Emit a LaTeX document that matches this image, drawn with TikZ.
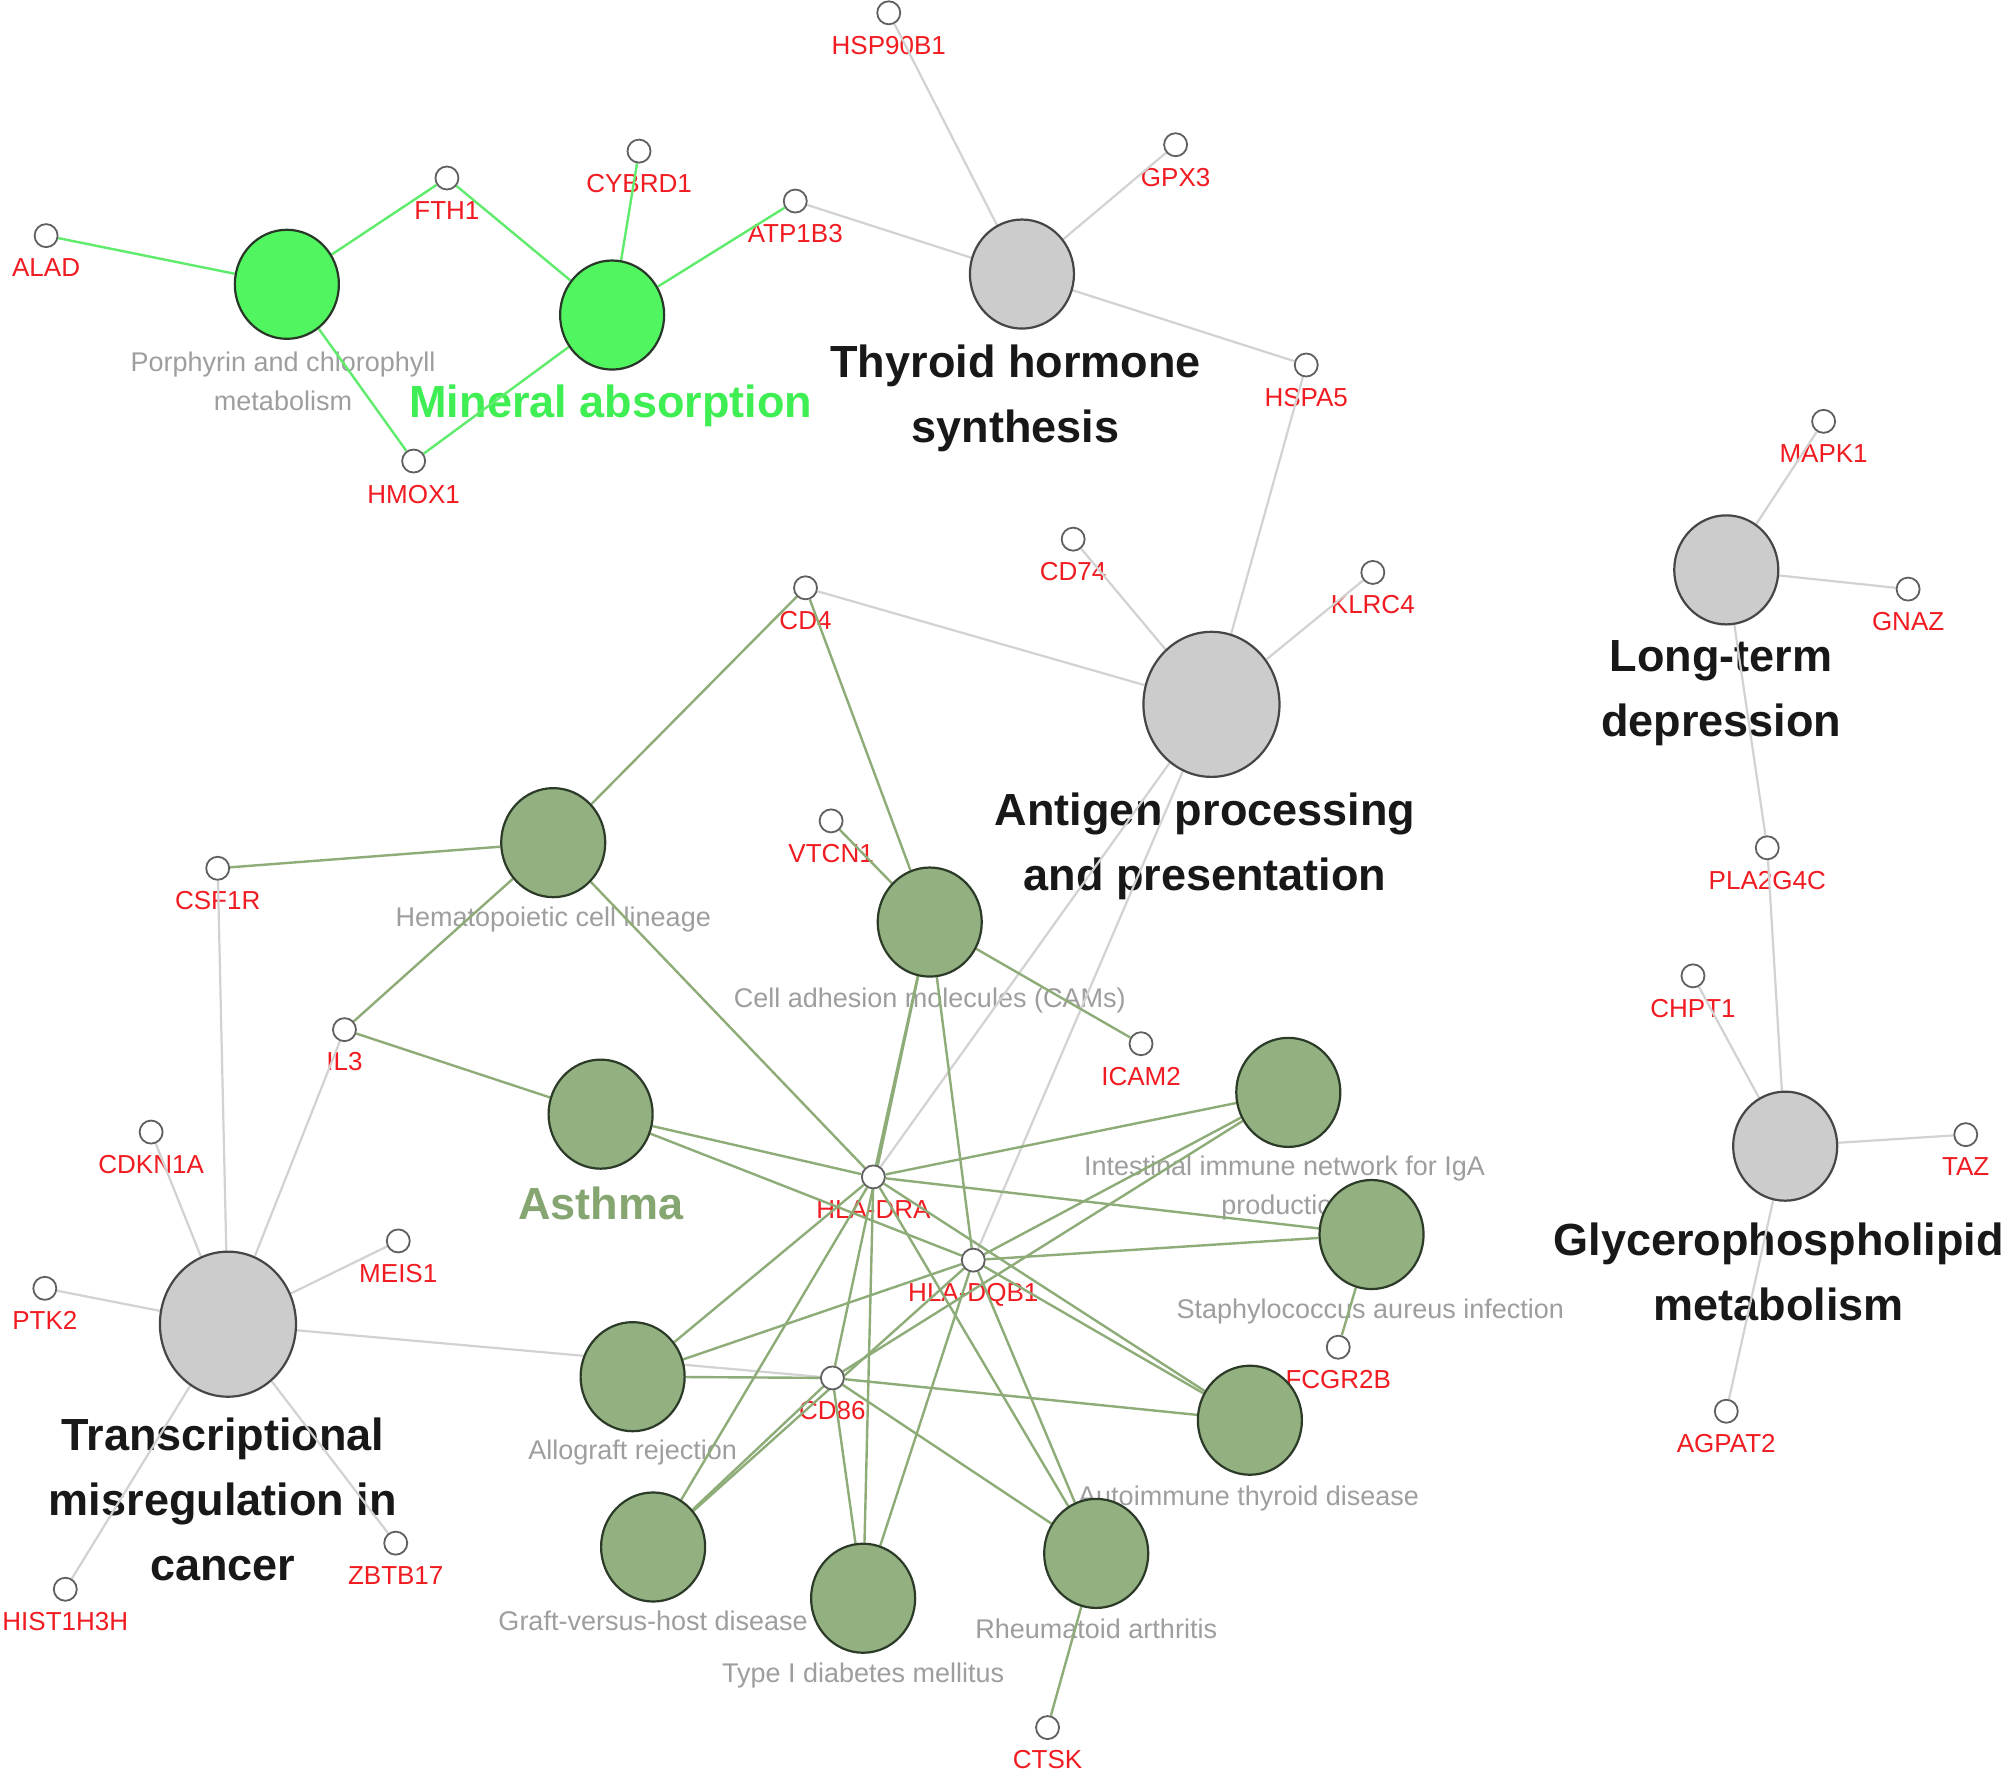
\documentclass[tikz,border=0pt]{standalone}
\usepackage{fontspec}
\setmainfont{Liberation Sans}
\usetikzlibrary{shapes.geometric}

\definecolor{minfill}{RGB}{80,245,95}
\definecolor{minedge}{RGB}{95,236,108}
\definecolor{mintext}{RGB}{62,238,82}
\definecolor{asthfill}{RGB}{147,176,128}
\definecolor{asthedge}{RGB}{142,172,120}
\definecolor{asthtext}{RGB}{133,166,112}
\definecolor{greyfill}{RGB}{204,204,204}
\definecolor{greyedge}{RGB}{210,210,210}
\definecolor{genered}{RGB}{240,28,34}
\definecolor{lightlab}{RGB}{158,158,158}
\definecolor{darklab}{RGB}{24,24,24}

\pgfdeclarelayer{labels}
\pgfdeclarelayer{edges}
\pgfsetlayers{labels,edges,main}

\tikzset{
  gene/.style={circle, draw={rgb,255:red,96;green,96;blue,96}, fill=white, line width=0.9pt, minimum size=11.5pt, inner sep=0pt},
  term/.style={ellipse, line width=1.1pt, minimum width=52pt, minimum height=54.5pt, inner sep=0pt},
  bigterm/.style={minimum width=68pt, minimum height=72.5pt},
  mineterm/.style={term, fill=minfill, draw={rgb,255:red,40;green,55;blue,40}},
  asthterm/.style={term, fill=asthfill, draw={rgb,255:red,44;green,58;blue,40}},
  greyterm/.style={term, fill=greyfill, draw={rgb,255:red,70;green,70;blue,70}},
  glab/.style={font=\fontsize{13}{15}\selectfont, text=genered, inner sep=0pt, text height=9.3pt, text depth=0pt},
  tlab/.style={font=\fontsize{13.5}{19.5}\selectfont, text=lightlab, inner sep=0pt, text height=9.7pt, text depth=0pt},
  tlabs/.style={font=\fontsize{13.5}{19.5}\selectfont, text=lightlab, inner sep=0pt, align=center},
  blab/.style={font=\bfseries\fontsize{22.5}{32.6}\selectfont, text=darklab, inner sep=0pt, align=center},
  mine/.style={draw=minedge, line width=1.2pt},
  asth/.style={draw=asthedge, line width=1.2pt},
  grey/.style={draw=greyedge, line width=1.1pt}
}

\begin{document}
\begin{tikzpicture}[x=0.64pt,y=0.64pt,yscale=-1,xscale=1]
\useasboundingbox (0,0) rectangle (1568,1390);

% Term nodes
\node [mineterm] (porph) at (224,222) {};
\node [mineterm] (mineral) at (478,246) {};
\node [greyterm] (thyroid) at (798,214) {};
\node [greyterm,bigterm] (antigen) at (946,550) {};
\node [greyterm] (ltd) at (1348,445) {};
\node [greyterm] (glycero) at (1394,895) {};
\node [greyterm,bigterm] (transcr) at (178,1034) {};
\node [asthterm] (hemato) at (432,658) {};
\node [asthterm] (cams) at (726,720) {};
\node [asthterm] (asthma) at (469,870) {};
\node [asthterm] (intest) at (1006,853) {};
\node [asthterm] (staph) at (1071,964) {};
\node [asthterm] (allo) at (494,1075) {};
\node [asthterm] (autoimm) at (976,1109) {};
\node [asthterm] (gvhd) at (510,1208) {};
\node [asthterm] (tidm) at (674,1248) {};
\node [asthterm] (ra) at (856,1213) {};

% Gene nodes
\node [gene] (hsp90b1) at (694,10) {};
\node [gene] (gpx3) at (918,113) {};
\node [gene] (alad) at (36,184) {};
\node [gene] (fth1) at (349,139) {};
\node [gene] (cybrd1) at (499,118) {};
\node [gene] (atp1b3) at (621,157) {};
\node [gene] (hspa5) at (1020,285) {};
\node [gene] (hmox1) at (323,360) {};
\node [gene] (mapk1) at (1424,329) {};
\node [gene] (gnaz) at (1490,460) {};
\node [gene] (cd74) at (838,421) {};
\node [gene] (klrc4) at (1072,447) {};
\node [gene] (cd4) at (629,459) {};
\node [gene] (vtcn1) at (649,641) {};
\node [gene] (csf1r) at (170,678) {};
\node [gene] (pla2g4c) at (1380,662) {};
\node [gene] (chpt1) at (1322,762) {};
\node [gene] (il3) at (269,804) {};
\node [gene] (icam2) at (891,815) {};
\node [gene] (cdkn1a) at (118,884) {};
\node [gene] (taz) at (1535,886) {};
\node [gene] (hladra) at (682,919) {};
\node [gene] (meis1) at (311,969) {};
\node [gene] (hladqb1) at (760,984) {};
\node [gene] (ptk2) at (35,1006) {};
\node [gene] (fcgr2b) at (1045,1052) {};
\node [gene] (cd86) at (650,1076) {};
\node [gene] (agpat2) at (1348,1102) {};
\node [gene] (zbtb17) at (309,1205) {};
\node [gene] (hist1h3h) at (51,1241) {};
\node [gene] (ctsk) at (818,1349) {};

\begin{pgfonlayer}{edges}
% Mineral absorption group
\draw [mine] (alad) -- (porph);
\draw [mine] (porph) -- (fth1);
\draw [mine] (porph) -- (hmox1);
\draw [mine] (fth1) -- (mineral);
\draw [mine] (cybrd1) -- (mineral);
\draw [mine] (atp1b3) -- (mineral);
\draw [mine] (hmox1) -- (mineral);
% grey groups
\draw [grey] (atp1b3) -- (thyroid);
\draw [grey] (hsp90b1) -- (thyroid);
\draw [grey] (gpx3) -- (thyroid);
\draw [grey] (thyroid) -- (hspa5);
\draw [grey] (hspa5) -- (antigen);
\draw [grey] (cd74) -- (antigen);
\draw [grey] (klrc4) -- (antigen);
\draw [grey] (cd4) -- (antigen);
\draw [grey] (antigen) -- (hladra);
\draw [grey] (antigen) -- (hladqb1);
\draw [grey] (mapk1) -- (ltd);
\draw [grey] (gnaz) -- (ltd);
\draw [grey] (ltd) -- (pla2g4c);
\draw [grey] (pla2g4c) -- (glycero);
\draw [grey] (chpt1) -- (glycero);
\draw [grey] (taz) -- (glycero);
\draw [grey] (glycero) -- (agpat2);
\foreach \g in {csf1r,cdkn1a,il3,meis1,ptk2,zbtb17,hist1h3h,cd86}
  \draw [grey] (transcr) -- (\g);
% Asthma group
\foreach \g in {cd4,csf1r,il3,hladra}
  \draw [asth] (hemato) -- (\g);
\foreach \g in {cd4,vtcn1,icam2,hladra,hladqb1,cd86}
  \draw [asth] (cams) -- (\g);
\foreach \g in {il3,hladra,hladqb1}
  \draw [asth] (asthma) -- (\g);
\foreach \t in {intest,allo,autoimm,gvhd,tidm,ra}
  \foreach \g in {hladra,hladqb1,cd86}
    \draw [asth] (\t) -- (\g);
\foreach \g in {hladra,hladqb1,fcgr2b}
  \draw [asth] (staph) -- (\g);
\draw [asth] (ra) -- (ctsk);
\end{pgfonlayer}

\begin{pgfonlayer}{labels}
\fill [white] (0,0) rectangle (1568,1390);
% Text Node: genes
\node [glab] (l-hsp90b1) at (694,35) {HSP90B1};
\node [glab] (l-gpx3) at (918,138) {GPX3};
\node [glab] (l-alad) at (36,209) {ALAD};
\node [glab] (l-fth1) at (349,164) {FTH1};
\node [glab] (l-cybrd1) at (499,143) {CYBRD1};
\node [glab] (l-atp1b3) at (621,182) {ATP1B3};
\node [glab] (l-hspa5) at (1020,310) {HSPA5};
\node [glab] (l-hmox1) at (323,386) {HMOX1};
\node [glab] (l-mapk1) at (1424,354) {MAPK1};
\node [glab] (l-gnaz) at (1490,485) {GNAZ};
\node [glab] (l-cd74) at (838,446) {CD74};
\node [glab] (l-klrc4) at (1072,472) {KLRC4};
\node [glab] (l-cd4) at (629,484) {CD4};
\node [glab] (l-vtcn1) at (649,666) {VTCN1};
\node [glab] (l-csf1r) at (170,703) {CSF1R};
\node [glab] (l-pla2g4c) at (1380,687) {PLA2G4C};
\node [glab] (l-chpt1) at (1322,787) {CHPT1};
\node [glab] (l-il3) at (269,829) {IL3};
\node [glab] (l-icam2) at (891,840) {ICAM2};
\node [glab] (l-cdkn1a) at (118,909) {CDKN1A};
\node [glab] (l-taz) at (1535,911) {TAZ};
\node [glab] (l-hladra) at (682,944) {HLA-DRA};
\node [glab] (l-meis1) at (311,994) {MEIS1};
\node [glab] (l-hladqb1) at (760,1009) {HLA-DQB1};
\node [glab] (l-ptk2) at (35,1031) {PTK2};
\node [glab] (l-fcgr2b) at (1045,1077) {FCGR2B};
\node [glab] (l-cd86) at (650,1101) {CD86};
\node [glab] (l-agpat2) at (1348,1127) {AGPAT2};
\node [glab] (l-zbtb17) at (309,1230) {ZBTB17};
\node [glab] (l-hist1h3h) at (51,1266) {HIST1H3H};
\node [glab] (l-ctsk) at (818,1374) {CTSK};
% Text Node: terms
\node [tlabs] (l-porph) at (221,298) {Porphyrin and chlorophyll\\metabolism};
\node [tlab] (l-hemato) at (432,716) {Hematopoietic cell lineage};
\node [tlab] (l-cams) at (726,779) {Cell adhesion molecules (CAMs)};
\node [tlabs] (l-intest) at (1003,928) {Intestinal immune network for IgA\\production};
\node [tlab] (l-staph) at (1070,1022) {Staphylococcus aureus infection};
\node [tlab] (l-allo) at (494,1132) {Allograft rejection};
\node [tlab] (l-autoimm) at (975,1168) {Autoimmune thyroid disease};
\node [tlab] (l-gvhd) at (510,1266) {Graft-versus-host disease};
\node [tlab] (l-tidm) at (674,1306) {Type I diabetes mellitus};
\node [tlab] (l-ra) at (856,1272) {Rheumatoid arthritis};
% Text Node: group titles
\node [blab, text=mintext] (t-mineral) at (477,317) {Mineral absorption};
\node [blab, text=asthtext] (t-asthma) at (469,940) {Asthma};
\node [blab] (t-thyroid) at (793,311) {Thyroid hormone\\synthesis};
\node [blab] (t-antigen) at (941,661) {Antigen processing\\and presentation};
\node [blab] (t-ltd) at (1344,541) {Long-term\\depression};
\node [blab] (t-glycero) at (1389,993) {Glycerophospholipid\\metabolism};
\node [blab] (t-transcr) at (174,1171) {Transcriptional\\misregulation in\\cancer};
\end{pgfonlayer}

\end{tikzpicture}
\end{document}
